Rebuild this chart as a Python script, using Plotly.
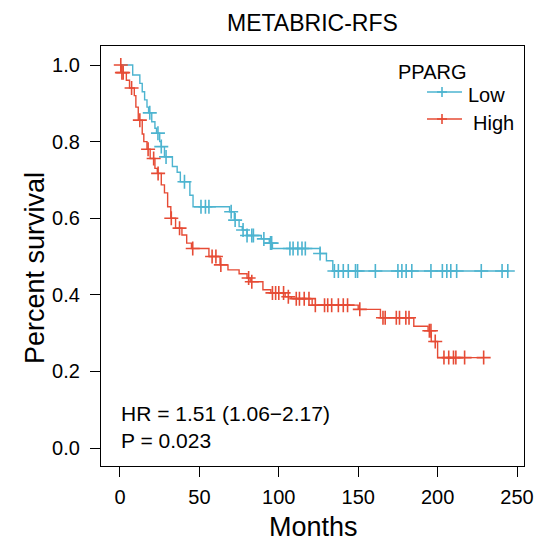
import plotly.graph_objects as go
import numpy as np

# ---- data ----
low_times = [0, 8, 12.5, 14, 15.5, 17, 18, 20, 22, 23, 25, 26, 28, 33, 36, 38, 44, 46,
             69, 72, 75, 77, 80, 89, 94, 96, 126, 130, 134]
low_surv = [1.0, 0.974, 0.952, 0.93, 0.909, 0.89, 0.875, 0.852, 0.835, 0.822, 0.80, 0.787,
            0.76, 0.735, 0.72, 0.695, 0.66, 0.63, 0.617, 0.595, 0.578, 0.569, 0.555, 0.546,
            0.535, 0.521, 0.508, 0.489, 0.462]
low_censor = [18.75, 23.9, 26, 29, 40.6, 51, 53.8, 56, 70, 72.5, 77.5, 80, 83, 84, 90.6,
              94.8, 95.5, 107, 109, 112, 114.6, 116.7, 126, 135, 137.5, 140.6, 143.75,
              148.3, 149.6, 160.8, 175, 177.5, 180.2, 183.75, 195.8, 203, 205.8, 208.3,
              212, 227.5, 240.6, 244.2]

high_times = [0, 1, 4, 6, 9, 10, 11.5, 14, 15, 17, 19, 22, 23.5, 26, 28, 30, 32, 35, 39,
              42, 45, 56, 63, 68, 75, 80, 82, 90, 95, 104, 108, 121, 150, 164, 185, 194,
              196, 200]
high_surv = [1.0, 0.98, 0.96, 0.94, 0.92, 0.89, 0.856, 0.82, 0.80, 0.78, 0.756, 0.73,
             0.717, 0.687, 0.666, 0.63, 0.60, 0.574, 0.556, 0.535, 0.521, 0.50, 0.478,
             0.465, 0.455, 0.444, 0.434, 0.413, 0.405, 0.395, 0.39, 0.373, 0.362, 0.34,
             0.318, 0.306, 0.278, 0.236]
high_censor = [0.5, 1.2, 2, 7.3, 12.5, 17.7, 21.2, 24, 32.3, 37.5, 45.8, 58, 60.4, 63.5,
               81, 83, 96, 98, 100, 103, 106, 111, 113, 116, 119, 123, 128.8, 130.8,
               133.3, 137.5, 140.6, 143.3, 151, 165.6, 167, 174, 176, 180, 182, 194.8,
               195.8, 198.5, 204, 207, 210, 211.5, 217, 229]

group_names = ["Low", "High"]
legend_title = "PPARG"
hr_text = ["HR = 1.51 (1.06\u22122.17)", "P = 0.023"]
x_ticks = [0, 50, 100, 150, 200, 250]
y_ticks = [0.0, 0.2, 0.4, 0.6, 0.8, 1.0]

BLUE = "#4DB4D0"
RED = "#E64B35"


def step_at(times, surv, t):
    idx = np.searchsorted(np.array(times), t, side="right") - 1
    return surv[max(idx, 0)]


fig = go.Figure()
for times, surv, cens, color, name in [
    (low_times, low_surv, low_censor, BLUE, group_names[0]),
    (high_times, high_surv, high_censor, RED, group_names[1]),
]:
    end = max(max(cens), times[-1])
    fig.add_trace(go.Scatter(
        x=list(times) + [end], y=list(surv) + [surv[-1]],
        mode="lines", line=dict(color=color, width=1.4, shape="hv"),
        showlegend=False, hoverinfo="skip"))
    fig.add_trace(go.Scatter(
        x=cens, y=[step_at(times, surv, t) for t in cens],
        mode="markers",
        marker=dict(symbol="cross-thin", size=10, line=dict(color=color, width=1.6)),
        showlegend=False, name=name))

FONT = "Liberation Sans, Arial, sans-serif"

L, R, T, B = 101, 524, 46, 466
W, H = 535, 542


def px(x):
    return (x - L) / (R - L)


def py(y):
    return (B - y) / (B - T)


def ann(text, x, y, size, xanchor="left", angle=0):
    return dict(text=text, x=px(x), y=py(y), xref="paper", yref="paper",
                showarrow=False, textangle=angle,
                font=dict(size=size, color="black", family=FONT),
                xanchor=xanchor, yanchor="middle")


annotations = [
    ann("METABRIC-RFS", 312, 23, 23, "center"),
    ann("Percent survival", 35, 268, 27, "center", -90),
    ann("Months", 313, 527, 27, "center"),
    ann(hr_text[0], 119, 413, 21),
    ann(hr_text[1], 119, 440, 21),
    ann(legend_title, 396, 72, 20),
    ann(group_names[0], 466, 95, 20),
    ann(group_names[1], 471, 123, 20),
]

shapes = []
for yy, color in [(92, BLUE), (119, RED)]:
    shapes.append(dict(type="line", xref="paper", yref="paper", x0=px(427), x1=px(462),
                       y0=py(yy), y1=py(yy), line=dict(color=color, width=1.4)))
    shapes.append(dict(type="line", xref="paper", yref="paper", x0=px(437), x1=px(447),
                       y0=py(yy), y1=py(yy), line=dict(color=color, width=1.6)))
    shapes.append(dict(type="line", xref="paper", yref="paper", x0=px(442), x1=px(442),
                       y0=py(yy - 5), y1=py(yy + 5), line=dict(color=color, width=1.6)))

fig.update_layout(
    width=W, height=H,
    margin=dict(l=L, r=W - R, t=T, b=H - B, pad=0, autoexpand=False),
    paper_bgcolor="white", plot_bgcolor="white",
    showlegend=False,
    annotations=annotations, shapes=shapes,
    font=dict(family=FONT, color="black"),
)
fig.update_xaxes(
    range=[-11.96, 254.4], tickvals=x_ticks, ticktext=[str(v) for v in x_ticks],
    showgrid=False, zeroline=False, showline=True, mirror=True,
    linecolor="black", linewidth=1.3, ticks="outside", ticklen=10, tickwidth=1.3,
    tickcolor="black", tickfont=dict(size=20, family=FONT, color="black"),
    ticklabelstandoff=3, ticklabeloverflow="allow", automargin=False,
)
fig.update_yaxes(
    range=[-0.047, 1.0496], tickvals=y_ticks, ticktext=[f"{v:.1f}" for v in y_ticks],
    showgrid=False, zeroline=False, showline=True, mirror=True,
    linecolor="black", linewidth=1.3, ticks="outside", ticklen=10, tickwidth=1.3,
    tickcolor="black", tickfont=dict(size=20, family=FONT, color="black"),
    ticklabelstandoff=6, automargin=False,
)

fig.write_html("out.html", config={"displayModeBar": False})

# remove the default page margin so the figure sits at the window's origin
with open("out.html", "r", encoding="utf-8") as f:
    html = f.read()
html = html.replace("<head>", "<head><style>html,body{margin:0;padding:0;overflow:hidden;}</style>", 1)
with open("out.html", "w", encoding="utf-8") as f:
    f.write(html)
